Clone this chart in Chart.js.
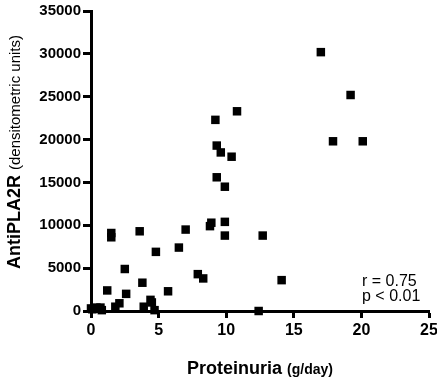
<!DOCTYPE html>
<html>
<head>
<meta charset="utf-8">
<script src="https://cdn.jsdelivr.net/npm/chart.js@4"></script>
<style>
  html, body { margin: 0; padding: 0; background: #fff; }
  #wrap { width: 437px; height: 377px; }
</style>
</head>
<body>
<div id="wrap"><canvas id="scatterChart" width="437" height="377"></canvas></div>
<script>
// proteinuria (g/day) and antiPLA2R (densitometric units)
const proteinuria = [
  17.0, 19.2, 17.9, 20.1, 12.7, 14.1, 12.4,
  9.2, 10.8, 9.3, 9.6, 10.4, 9.3, 9.9,
  1.5, 1.5, 3.6, 7.0, 8.9, 8.8, 9.9, 9.9,
  4.8, 6.5, 2.5, 7.9, 8.3, 1.2, 3.8, 2.6, 5.7,
  4.4, 4.5, 2.1, 1.8, 3.9, 4.7, 0.4, 0.7, 0.1, 0.8, 0.0
];
const antiPLA2R = [
  30200, 25200, 19800, 19800, 8800, 3600, 0,
  22300, 23300, 19300, 18500, 18000, 15600, 14500,
  9100, 8600, 9300, 9500, 10300, 9900, 10400, 8800,
  6900, 7400, 4900, 4300, 3800, 2400, 3300, 2000, 2300,
  1300, 1000, 900, 500, 500, 100, 400, 400, 200, 100, 300
];
const xTicks = [0, 5, 10, 15, 20, 25];
const yTicks = [0, 5000, 10000, 15000, 20000, 25000, 30000, 35000];
const statLines = ['r = 0.75', 'p < 0.01'];

const points = proteinuria.map((x, i) => ({ x: x, y: antiPLA2R[i] }));

// axis titles with mixed font sizes + the r/p annotation
const titlesPlugin = {
  id: 'titles',
  afterDraw(chart) {
    const ctx = chart.ctx;
    const area = chart.chartArea;
    ctx.save();
    ctx.fillStyle = '#000';
    ctx.textBaseline = 'alphabetic';

    // x title
    const bigX = 'bold 18px "Liberation Sans", Arial, sans-serif';
    const smallX = 'bold 14px "Liberation Sans", Arial, sans-serif';
    ctx.font = bigX;
    const w1 = ctx.measureText('Proteinuria ').width;
    ctx.font = smallX;
    const w2 = ctx.measureText('(g/day)').width;
    let sx = (area.left + area.right) / 2 - (w1 + w2) / 2;
    ctx.font = bigX;
    ctx.fillText('Proteinuria ', sx, 374);
    ctx.font = smallX;
    ctx.fillText('(g/day)', sx + w1, 374);

    // y title, rotated
    const bigY = 'bold 18px "Liberation Sans", Arial, sans-serif';
    const smallY = '15px "Liberation Sans", Arial, sans-serif';
    ctx.translate(20, 152);
    ctx.rotate(-Math.PI / 2);
    ctx.font = bigY;
    const h1 = ctx.measureText('AntiPLA2R ').width;
    ctx.font = smallY;
    const h2 = ctx.measureText('(densitometric units)').width;
    let sy = -(h1 + h2) / 2;
    ctx.font = bigY;
    ctx.fillText('AntiPLA2R ', sy, 0);
    ctx.font = smallY;
    ctx.fillText('(densitometric units)', sy + h1, 0);
    ctx.restore();

    // r / p annotation
    ctx.save();
    ctx.fillStyle = '#000';
    ctx.font = '16px "Liberation Sans", Arial, sans-serif';
    ctx.textAlign = 'left';
    statLines.forEach((t, i) => {
      ctx.fillText(t, 362, 286 + i * 15);
    });
    ctx.restore();
  },
};

const ctx = document.getElementById('scatterChart').getContext('2d');
new Chart(ctx, {
  type: 'scatter',
  data: {
    datasets: [
      {
        data: points,
        pointStyle: 'rect',
        pointRadius: 6,
        pointHoverRadius: 6,
        backgroundColor: '#000',
        borderColor: '#000',
        borderWidth: 0,
        clip: false,
      },
    ],
  },
  options: {
    responsive: false,
    animation: false,
    layout: { padding: { top: 8, right: 0, left: 0, bottom: 0 } },
    scales: {
      x: {
        type: 'linear',
        min: 0,
        max: 25,
        afterFit: (scale) => {
          scale.height = 66;
          scale.paddingRight = 8;
          scale.paddingLeft = 0;
        },
        afterBuildTicks: (scale) => { scale.ticks = xTicks.map((v) => ({ value: v })); },
        ticks: {
          color: '#000',
          font: { family: '"Liberation Sans", Arial, sans-serif', size: 16, weight: 'bold' },
          padding: 3,
          maxRotation: 0,
        },
        grid: { drawOnChartArea: false, drawTicks: true, tickLength: 7, tickWidth: 3, tickColor: '#000' },
        border: { display: true, color: '#000', width: 3 },
      },
      y: {
        type: 'linear',
        min: 0,
        max: 35000,
        afterFit: (scale) => { scale.width = 91; },
        afterBuildTicks: (scale) => { scale.ticks = yTicks.map((v) => ({ value: v })); },
        ticks: {
          color: '#000',
          font: { family: '"Liberation Sans", Arial, sans-serif', size: 15, weight: 'bold' },
          padding: 2,
          callback: (v) => String(v),
        },
        grid: { drawOnChartArea: false, drawTicks: true, tickLength: 8, tickWidth: 3, tickColor: '#000' },
        border: { display: true, color: '#000', width: 3 },
      },
    },
    plugins: {
      legend: { display: false },
      tooltip: { enabled: false },
    },
  },
  plugins: [titlesPlugin],
});
</script>
</body>
</html>
